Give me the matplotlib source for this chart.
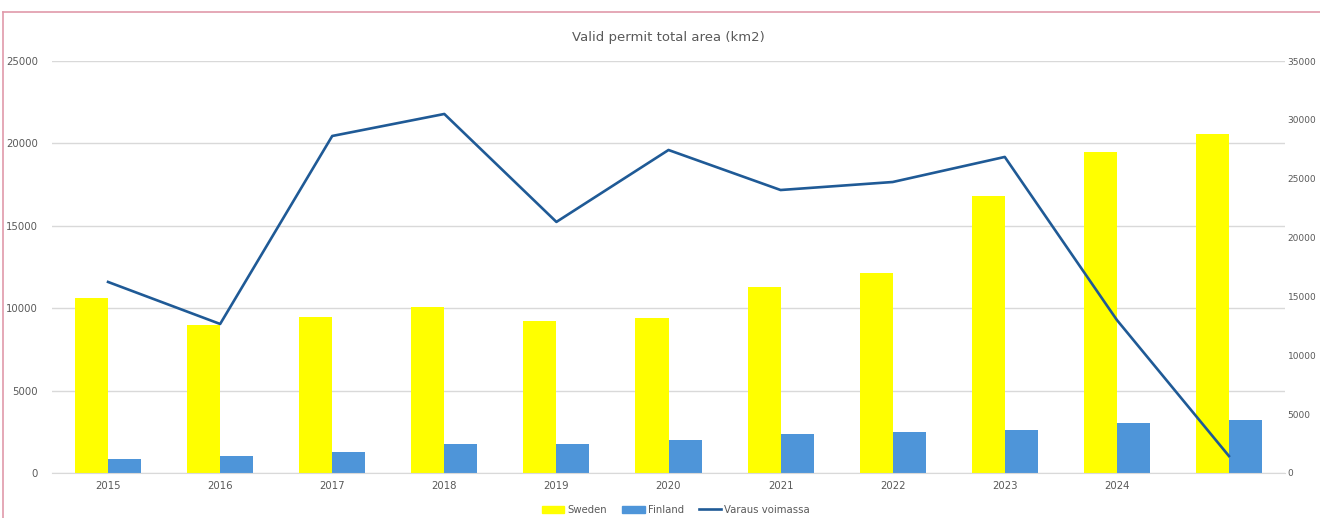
import matplotlib.pyplot as plt
import numpy as np
from matplotlib.lines import Line2D

years = ["2015", "2016", "2017", "2018", "2019", "2020", "2021", "2022", "2023", "2024", ""]
sweden = [10600, 9000, 9470, 10070, 9220, 9400, 11290, 12140, 16810, 19480, 20570]
finland = [850, 1030, 1270, 1760, 1760, 2000, 2370, 2490, 2610, 3030, 3220]
varaus = [16230, 12660, 28630, 30500, 21330, 27440, 24040, 24720, 26850, 13000, 1440]

grey = "#595959"
grid = "#d9d9d9"

fig = plt.figure(figsize=(13.2, 5.18), dpi=100)
ax = fig.add_axes([52 / 1320, 1 - 473 / 518, 1233 / 1320, 412 / 518])
ax2 = ax.twinx()

x = np.arange(len(years))
w = 0.295
ax.bar(x - w / 2, sweden, w, color="#ffff00", label="Sweden", zorder=2)
ax.bar(x + w / 2, finland, w, color="#4e95d9", label="Finland", zorder=2)
ax2.plot(x, varaus, color="#1f5a96", lw=1.9, label="Varaus voimassa", zorder=3)

ax.set_xlim(-0.5, len(years) - 0.5)
ax.set_ylim(0, 25000)
ax2.set_ylim(0, 35000)
ax.set_yticks(range(0, 25001, 5000))
ax2.set_yticks(range(0, 35001, 5000))
ax.set_xticks(x)
ax.set_xticklabels(years)

ax.grid(axis="y", color=grid, lw=1, zorder=0)
ax.set_axisbelow(True)
for a in (ax, ax2):
    for s in a.spines.values():
        s.set_visible(False)
    a.tick_params(length=0, labelsize=7.3, labelcolor=grey)
ax.spines["bottom"].set_visible(True)
ax.spines["bottom"].set_color(grid)
ax.tick_params(axis="y", pad=10)
ax.tick_params(axis="x", pad=6)
# right labels are tight against the image edge
ax2.tick_params(axis="y", pad=2, labelsize=6.5)
ax2.set_zorder(ax.get_zorder() + 1)
ax2.patch.set_visible(False)

fig.text(668 / 1320, 1 - 37 / 518, "Valid permit total area (km2)", ha="center", va="center",
         fontsize=9.5, color=grey)

handles = [plt.Rectangle((0, 0), 1, 1, color="#ffff00"),
           plt.Rectangle((0, 0), 1, 1, color="#4e95d9"),
           Line2D([0], [0], color="#1f5a96", lw=1.9)]
fig.legend(handles, ["Sweden", "Finland", "Varaus voimassa"], loc="center",
           bbox_to_anchor=(676 / 1320, 1 - 510 / 518), ncol=3, frameon=False,
           fontsize=7.3, labelcolor=grey, handlelength=2.2, handleheight=0.8,
           columnspacing=1.5, handletextpad=0.3)

# pink frame of the chart area
fig.add_artist(Line2D([3 / 1320, 3 / 1320], [0, 1 - 12 / 518], color="#e09aaa", lw=1.2))
fig.add_artist(Line2D([3 / 1320, 1], [1 - 12 / 518, 1 - 12 / 518], color="#e09aaa", lw=1.2))

fig.savefig("out.png", dpi=100)
